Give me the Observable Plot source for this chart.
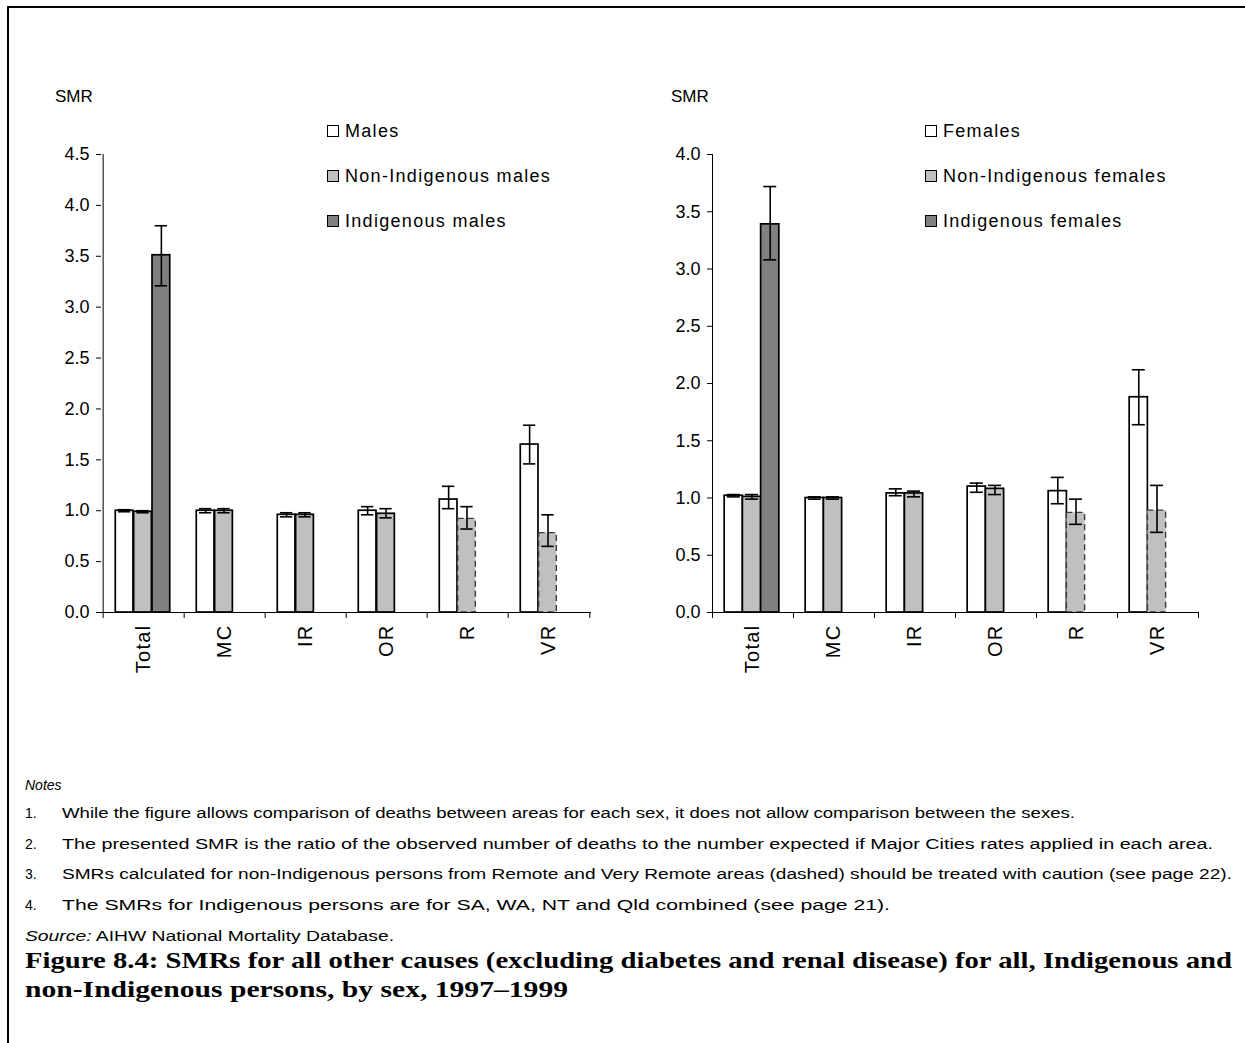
<!DOCTYPE html>
<html><head><meta charset="utf-8">
<script src="https://cdn.jsdelivr.net/npm/d3@7"></script>
<script src="https://cdn.jsdelivr.net/npm/@observablehq/plot@0.6"></script>
<style>
body{margin:0;background:#fff;font-family:"Liberation Sans",Arial,sans-serif;color:#000;}
#page{position:relative;width:1245px;height:1043px;overflow:hidden;background:#fff;}
#frame{position:absolute;left:7px;top:6px;width:1300px;height:1100px;border-left:2px solid #000;border-top:2px solid #000;}
.abs{position:absolute;white-space:nowrap;transform-origin:0 50%;}
.smr{font-size:17px;}
.leg{font-size:18px;letter-spacing:1.3px;}
.leg .sw{display:inline-block;width:10px;height:10px;border:1px solid #000;margin-right:6px;vertical-align:0px;}
.note{font-size:14px;}
.title{font-family:"Liberation Serif","Times New Roman",serif;font-weight:bold;font-size:23px;}
g[aria-label="x-axis tick label"] text{letter-spacing:1.3px;}
</style>
</head><body>
<div id="page">
<div id="frame"></div>
<div id="left" class="abs" style="left:0;top:80px;"></div>
<div id="right" class="abs" style="left:620px;top:80px;"></div>
<div id="texts"></div>
</div>
<script>
// ---------- data ----------
const categories = ["Total","MC","IR","OR","R","VR"];
const dashedCategories = ["R","VR"]; // non-Indigenous Remote / Very Remote (dashed)
const maleSeries = ["Males","Non-Indigenous males","Indigenous males"];
const femaleSeries = ["Females","Non-Indigenous females","Indigenous females"];

const maleAll      = [1.00, 1.00, 0.96, 1.00, 1.11, 1.65];
const maleAllLo    = [0.99, 0.98, 0.94, 0.96, 1.02, 1.46];
const maleAllHi    = [1.01, 1.02, 0.98, 1.04, 1.24, 1.84];
const maleNonInd   = [0.99, 1.00, 0.96, 0.97, 0.92, 0.78];
const maleNonIndLo = [0.98, 0.98, 0.94, 0.93, 0.82, 0.65];
const maleNonIndHi = [1.00, 1.02, 0.98, 1.02, 1.04, 0.96];
const maleInd      = [3.51, null, null, null, null, null];
const maleIndLo    = [3.21, null, null, null, null, null];
const maleIndHi    = [3.80, null, null, null, null, null];

const femAll       = [1.02, 1.00, 1.04, 1.10, 1.06, 1.88];
const femAllLo     = [1.01, 0.99, 1.02, 1.05, 0.95, 1.64];
const femAllHi     = [1.03, 1.01, 1.08, 1.13, 1.18, 2.12];
const femNonInd    = [1.01, 1.00, 1.04, 1.08, 0.87, 0.89];
const femNonIndLo  = [0.99, 0.99, 1.01, 1.03, 0.77, 0.70];
const femNonIndHi  = [1.03, 1.01, 1.06, 1.11, 0.99, 1.11];
const femInd       = [3.39, null, null, null, null, null];
const femIndLo     = [3.08, null, null, null, null, null];
const femIndHi     = [3.72, null, null, null, null, null];

const yTicksMale = [0,0.5,1,1.5,2,2.5,3,3.5,4,4.5];
const yTicksFemale = [0,0.5,1,1.5,2,2.5,3,3.5,4];

const notes = [
  "While the figure allows comparison of deaths between areas for each sex, it does not allow comparison between the sexes.",
  "The presented SMR is the ratio of the observed number of deaths to the number expected if Major Cities rates applied in each area.",
  "SMRs calculated for non-Indigenous persons from Remote and Very Remote areas (dashed) should be treated with caution (see page 22).",
  "The SMRs for Indigenous persons are for SA, WA, NT and Qld combined (see page 21)."
];
const titleLines = [
  "Figure 8.4: SMRs for all other causes (excluding diabetes and renal disease) for all, Indigenous and",
  "non-Indigenous persons, by sex, 1997\u20131999"
];

// ---------- styling ----------
const fills = ["#ffffff", "#c0c0c0", "#808080"];

function buildRows(vals, los, his) {
  const rows = [];
  vals.forEach((arr, s) => arr.forEach((v, i) => {
    if (v == null) return;
    rows.push({cat: categories[i], s, value: v, lo: los[s][i], hi: his[s][i],
      dashed: s === 1 && dashedCategories.includes(categories[i])});
  }));
  return rows;
}

function makeChart(rows, yMax, yTicks, o) {
  const W = o.width, H = o.height;
  const bw = (W - o.ml - o.mr) / categories.length;
  const barW = bw * 0.225;
  const pad = (bw - 3 * barW) / 2 - 1;
  const inL = s => pad + s * barW;
  const inR = s => bw - pad - (s + 1) * barW;
  const frameH = H - o.mt - o.mb;
  const marks = [];
  for (let s = 0; s < 3; s++) {
    const d = rows.filter(r => r.s === s);
    marks.push(Plot.barY(d.filter(r => !r.dashed), {x: "cat", y: "value", fill: fills[s], stroke: "#000", strokeWidth: 1.7, insetLeft: inL(s), insetRight: inR(s)}));
    marks.push(Plot.barY(d.filter(r => r.dashed), {x: "cat", y: "value", fill: fills[s], stroke: "#3a3a3a", strokeWidth: 1.4, strokeDasharray: "6,4", insetLeft: inL(s), insetRight: inR(s)}));
  }
  for (let s = 0; s < 3; s++) {
    const d = rows.filter(r => r.s === s);
    const c = inL(s) + barW / 2;
    marks.push(Plot.ruleX(d, {x: "cat", y1: "lo", y2: "hi", dx: c - bw / 2, stroke: "#000", strokeWidth: 1.6}));
    marks.push(Plot.tickY(d, {x: "cat", y: "hi", insetLeft: c - 6.5, insetRight: bw - c - 6.5, stroke: "#000", strokeWidth: 1.6}));
    marks.push(Plot.tickY(d, {x: "cat", y: "lo", insetLeft: c - 6.5, insetRight: bw - c - 6.5, stroke: "#000", strokeWidth: 1.6}));
  }
  // y axis line along the left edge of the first category band
  marks.push(Plot.ruleX(categories.slice(0, 1), {x: d => d, dx: -bw / 2, stroke: "#000"}));
  // category boundary ticks below the x axis
  marks.push(Plot.ruleX(categories, {x: d => d, dx: -bw / 2, insetTop: frameH, insetBottom: -6, stroke: "#000"}));
  marks.push(Plot.ruleX(categories.slice(-1), {x: d => d, dx: bw / 2, insetTop: frameH, insetBottom: -6, stroke: "#000"}));
  marks.push(Plot.ruleY([0], {stroke: "#000", strokeWidth: 1.2}));
  marks.push(Plot.axisY({ticks: yTicks, tickFormat: d3.format(".1f"), tickSize: 5, tickPadding: 7, fontSize: 18, stroke: "#000"}));
  marks.push(Plot.axisX({tickRotate: -90, tickSize: 0, tickPadding: 12, fontSize: 20}));
  return Plot.plot({
    width: W, height: H,
    marginLeft: o.ml, marginRight: o.mr, marginTop: o.mt, marginBottom: o.mb,
    style: {fontFamily: "Liberation Sans, Arial, sans-serif", color: "#000", background: "transparent"},
    x: {domain: categories, padding: 0, label: null, axis: null},
    y: {domain: [0, yMax], label: null, axis: null},
    marks
  });
}

const maleRows = buildRows([maleAll, maleNonInd, maleInd], [maleAllLo, maleNonIndLo, maleIndLo], [maleAllHi, maleNonIndHi, maleIndHi]);
const femRows = buildRows([femAll, femNonInd, femInd], [femAllLo, femNonIndLo, femIndLo], [femAllHi, femNonIndHi, femIndHi]);

document.getElementById("left").appendChild(makeChart(maleRows, 4.5, yTicksMale, {width: 620, height: 620, ml: 101, mr: 29, mt: 74, mb: 88}));
document.getElementById("right").appendChild(makeChart(femRows, 4.0, yTicksFemale, {width: 620, height: 620, ml: 92, mr: 42, mt: 74, mb: 88}));

// ---------- texts ----------
const T = document.getElementById("texts");
function add(html, cls, left, top, fitW) {
  const el = document.createElement("div");
  el.className = "abs " + cls;
  el.style.left = left + "px";
  el.style.top = top + "px";
  el.innerHTML = html;
  T.appendChild(el);
  if (fitW) {
    const w = el.getBoundingClientRect().width;
    el.style.transform = `scaleX(${fitW / w})`;
  }
  return el;
}
add("SMR", "smr", 55, 87);
add("SMR", "smr", 671, 87);
function legend(series, left) {
  series.forEach((name, i) => {
    add(`<span class="sw" style="background:${fills[i]}"></span>${name}`, "leg", left, 121 + i * 45);
  });
}
legend(maleSeries, 327);
legend(femaleSeries, 925);

add("<i>Notes</i>", "note", 25, 777);
notes.forEach((n, i) => {
  add(`${i + 1}.`, "note", 25, 805 + i * 30.7);
});
const noteEnds = [1075, 1213, 1232, 890];
notes.forEach((n, i) => {
  add(n, "note", 62, 805 + i * 30.7, noteEnds[i] - 62);
});
add("<i>Source:</i> AIHW National Mortality Database.", "note", 25, 928, 394 - 25);
add(titleLines[0], "title", 25, 948, 1232 - 25);
add(titleLines[1], "title", 25, 977, 568 - 25);
</script>
</body></html>
